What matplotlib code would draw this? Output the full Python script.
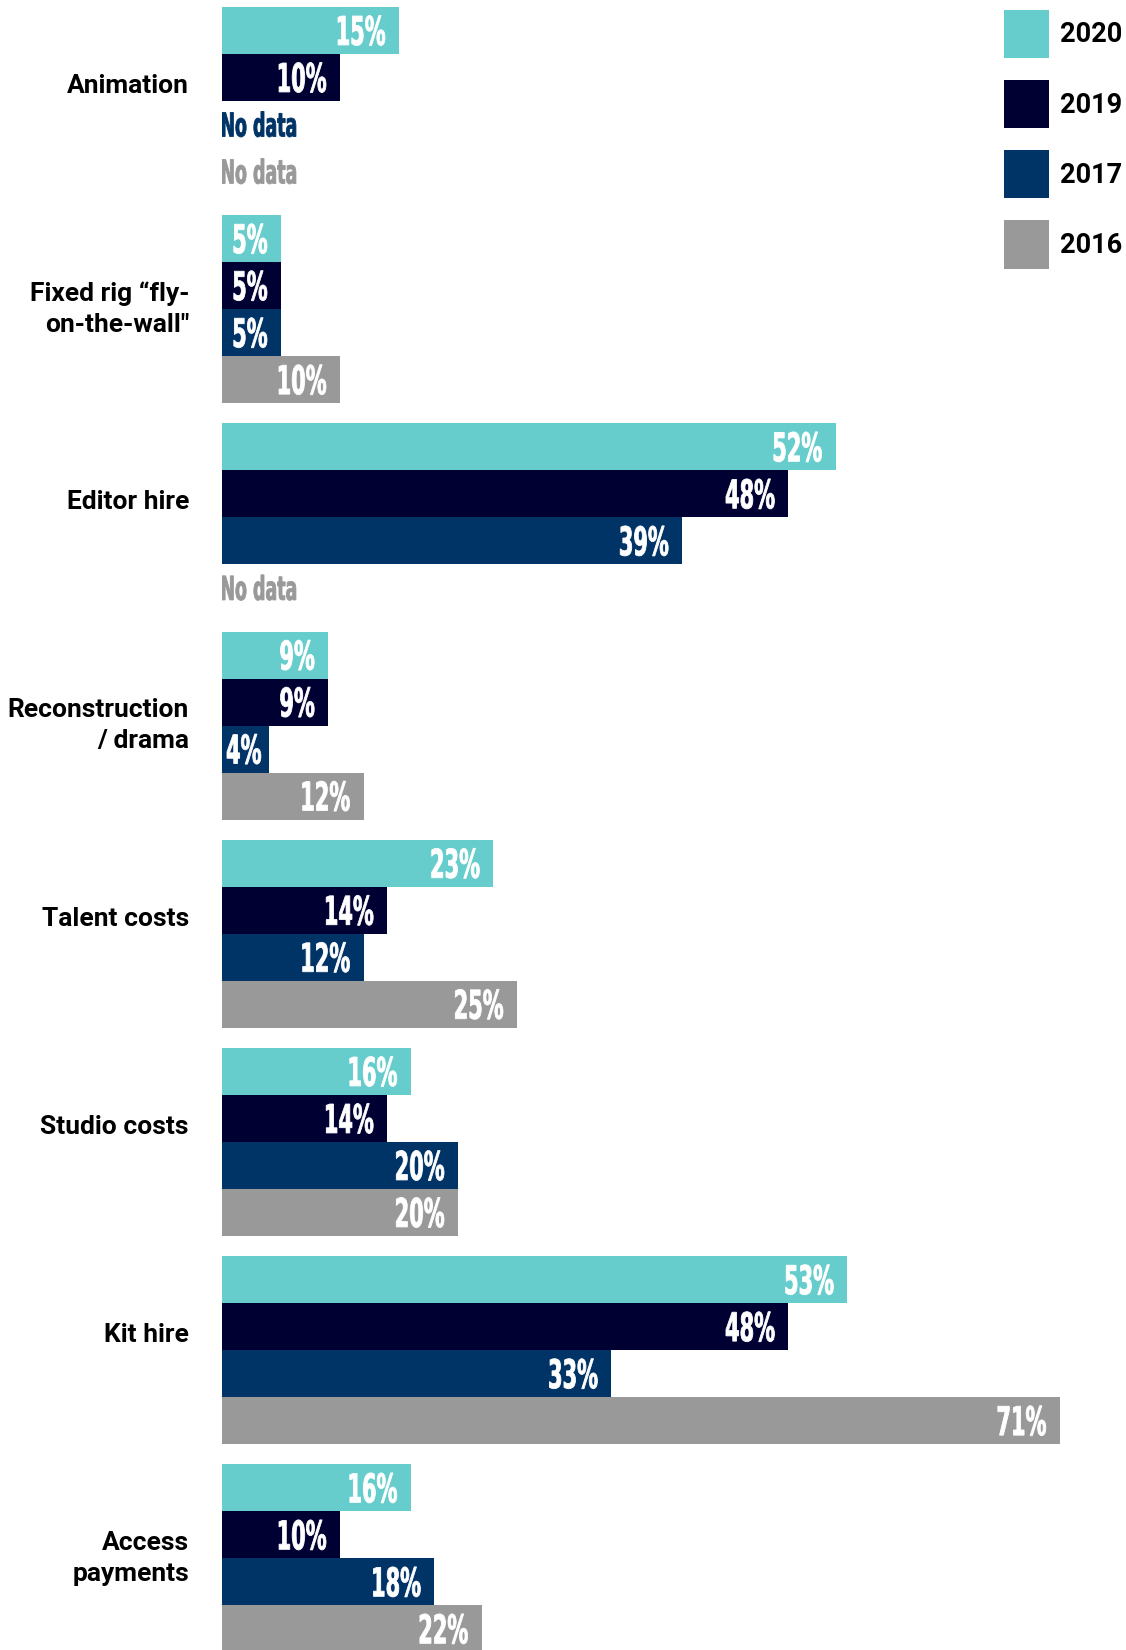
import matplotlib
matplotlib.use('Agg')
import matplotlib.pyplot as plt
from matplotlib.font_manager import FontProperties
from matplotlib.patches import Patch, PathPatch
from matplotlib.textpath import TextPath
from matplotlib.transforms import Affine2D, ScaledTranslation

# survey results, % of respondents per year (None = not asked that year)
categories = ['Animation', 'Fixed rig \u201cfly-\non-the-wall"', 'Editor hire',
              'Reconstruction\n/ drama', 'Talent costs', 'Studio costs',
              'Kit hire', 'Access\npayments']
years = ['2020', '2019', '2017', '2016']
v2020 = [15, 5, 52, 9, 23, 16, 53, 16]
v2019 = [10, 5, 48, 9, 14, 14, 48, 10]
v2017 = [None, 5, 39, 4, 12, 20, 33, 18]
v2016 = [None, 10, None, 12, 25, 20, 71, 22]
colors = ['#66cdcc', '#000033', '#003366', '#999999']

plt.rcParams['font.family'] = ['Roboto', 'DejaVu Sans']

W, H = 1126, 1650
PX_PER_PCT = 11.8
BAR_PX = 47
fig = plt.figure(figsize=(W / 100, H / 100), dpi=100)
ax = fig.add_axes([222 / W, 0, 904 / W, 1])

pitch = 208.2 / BAR_PX  # group spacing in bar heights
num_font = FontProperties(family=['Liberation Sans Narrow', 'DejaVu Sans Condensed', 'DejaVu Sans'],
                          weight='bold')
zero = TextPath((0, 0), '0', size=1, prop=num_font).get_extents()
# squash the face so that "15%" is 47px wide at a 30px cap height
SQUEEZE = (47 / TextPath((0, 0), '15%', size=1, prop=num_font).get_extents().width) / (30 / zero.height)


def tall_label(text, x, y, color, ha='right', pad=14, cap=30, room=None):
    # tall condensed label drawn as a path, centred on row y
    tp = TextPath((0, 0), text, size=1, prop=num_font)
    ext = tp.get_extents()
    sy = cap / zero.height
    sx = sy * SQUEEZE
    w = ext.width * sx
    if ha == 'right':
        if room is not None and w + pad + 5 > room:
            pad = max(room - w - 5, 0)
        dx = -ext.x1 * sx - pad
    else:
        dx = -ext.x0 * sx
    dy = -(zero.y0 + zero.y1) / 2 * sy
    tr = Affine2D().scale(sx, sy).translate(dx, dy) + ScaledTranslation(x, y, ax.transData)
    ax.add_artist(PathPatch(tp, transform=tr, facecolor=color, edgecolor=color, lw=0.6))


series = [v2020, v2019, v2017, v2016]
for g, name in enumerate(categories):
    for j, vals in enumerate(series):
        v = vals[g]
        y = g * pitch + j
        if v is None:
            tall_label('No data', 0, y + 0.5, colors[j], ha='left', cap=25)
            continue
        ax.barh(y, v, height=1, align='edge', color=colors[j], lw=0)
        tall_label(f'{v}%', v, y + 0.5, 'white', room=v * PX_PER_PCT)
    lift = 0 if '\n' in name else 15
    ax.annotate(name, (0, g * pitch + 2), xytext=(-33, lift), textcoords='offset pixels',
                ha='right', va='center', fontsize=19, fontweight='bold', color='black',
                linespacing=1.4, annotation_clip=False)

ax.set_xlim(0, 904 / PX_PER_PCT)
ax.set_ylim(1643 / BAR_PX, -7 / BAR_PX)
ax.axis('off')

handles = [Patch(facecolor=c, lw=0) for c in colors]
ax.legend(handles, years, loc='upper left', bbox_to_anchor=(1004 / W, 1 - 10 / H),
          bbox_transform=fig.transFigure, frameon=False,
          prop={'weight': 'bold', 'size': 19.5},
          handlelength=1.67, handleheight=2.36, handletextpad=0.4,
          labelspacing=0.81, borderpad=0, borderaxespad=0)

fig.savefig('out.png', dpi=100)
